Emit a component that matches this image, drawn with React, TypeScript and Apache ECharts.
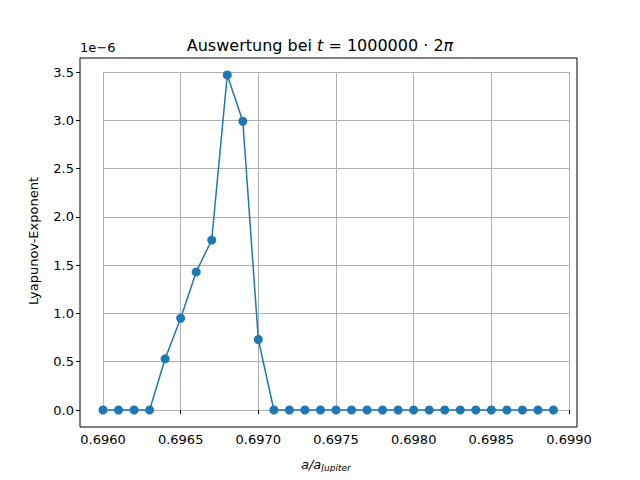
import React, { useEffect, useRef } from "react";
import * as echarts from "echarts";

const xValues = [0.6960,0.6961,0.6962,0.6963,0.6964,0.6965,0.6966,0.6967,0.6968,0.6969,0.6970,0.6971,0.6972,0.6973,0.6974,0.6975,0.6976,0.6977,0.6978,0.6979,0.6980,0.6981,0.6982,0.6983,0.6984,0.6985,0.6986,0.6987,0.6988,0.6989];
const yValues = [0,0,0,0,0.53,0.95,1.43,1.76,3.47,2.99,0.73,0,0,0,0,0,0,0,0,0,0,0,0,0,0,0,0,0,0,0];

export default function App() {
  const ref = useRef<HTMLDivElement>(null);
  useEffect(() => {
    const chart = echarts.init(ref.current!, null, { renderer: "svg" });
    const font = "DejaVu Sans";
    chart.setOption({
      animation: false,
      textStyle: { fontFamily: font },
      grid: { left: 103, right: 71, top: 72, bottom: 70 },
      title: {
        text: "{n|Auswertung bei }{i|t}{n| = 1000000 · 2}{i|π}",
        left: "center", top: 32,
        textStyle: { fontWeight: "normal", rich: { n: { fontSize: 16, fontWeight: "normal", fontFamily: font, color: "#000" }, i: { fontSize: 16, fontWeight: "normal", fontStyle: "italic", fontFamily: font, color: "#000" } } },
      },
      graphic: [
        { type: "rect", shape: { x: 80, y: 58, width: 497, height: 369 }, style: { fill: "none", stroke: "#000", lineWidth: 1 }, z: 10 },
        { type: "text", x: 80, y: 41, style: { text: "1e−6", fontSize: 13, fontFamily: font, fill: "#000" } },
        { type: "text", x: 301, y: 456, style: { text: "{i|a/a}{s|Jupiter}", rich: { i: { fontSize: 13, fontStyle: "italic", fontFamily: font }, s: { fontSize: 9, fontStyle: "italic", fontFamily: font, padding: [7, 0, 0, 0] } } } },
      ],
      xAxis: {
        type: "value", min: 0.696, max: 0.699, interval: 0.0005, offset: 17,
        axisLine: { show: false },
        axisTick: { show: true, length: 4, lineStyle: { color: "#000" } },
        axisLabel: { color: "#000", fontSize: 13, margin: 6, formatter: (v: number) => v.toFixed(4) },
        splitLine: { show: true, lineStyle: { color: "#b0b0b0", width: 1 } },
      },
      yAxis: {
        type: "value", min: 0, max: 3.5, interval: 0.5, offset: 23,
        name: "Lyapunov-Exponent", nameLocation: "middle", nameGap: 40,
        nameTextStyle: { color: "#000", fontSize: 13 },
        axisLine: { show: false },
        axisTick: { show: true, length: 4, lineStyle: { color: "#000" } },
        axisLabel: { color: "#000", fontSize: 13, margin: 6, formatter: (v: number) => v.toFixed(1) },
        splitLine: { show: true, lineStyle: { color: "#b0b0b0", width: 1 } },
      },
      series: [{
        type: "line", data: xValues.map((x, i) => [x, yValues[i]]),
        symbol: "circle", symbolSize: 9, clip: false,
        lineStyle: { color: "#1f77b4", width: 1.5 }, itemStyle: { color: "#1f77b4" },
      }],
    });
    return () => chart.dispose();
  }, []);
  return <div ref={ref} style={{ width: 640, height: 480, margin: -8 }} />;
}
